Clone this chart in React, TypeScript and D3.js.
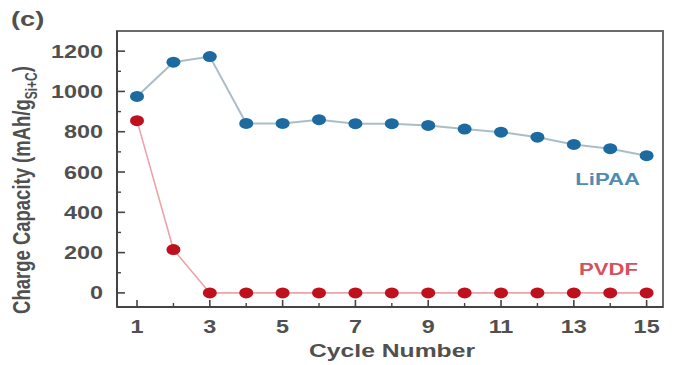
import { useEffect } from "react";
import * as d3 from "d3";

const cycles = [1, 2, 3, 4, 5, 6, 7, 8, 9, 10, 11, 12, 13, 14, 15];
const lipaa = [975, 1145, 1173, 841, 841, 860, 840, 840, 831, 813, 798, 773, 737, 716, 681];
const pvdf = [855, 215, 0, 0, 0, 0, 0, 0, 0, 0, 0, 0, 0, 0, 0];
const yTicks = [0, 200, 400, 600, 800, 1000, 1200];
const yMinor = [100, 300, 500, 700, 900, 1100];
const xTicks = [1, 3, 5, 7, 9, 11, 13, 15];
const xMinor = [2, 4, 6, 8, 10, 12, 14];

const W = 674, H = 365;
const box = { left: 117, right: 663, top: 31, bottom: 307 };
const SX = 1.3; // the picture is stretched sideways
const font = "'Liberation Sans', Arial, sans-serif";
const ink = "#505050";

const x = d3.scaleLinear().domain([0.45, 15.45]).range([box.left, box.right]);
const y = d3.scaleLinear().domain([-70, 1300]).range([box.bottom, box.top]);

const line = d3.line<number>().x((_, i) => x(cycles[i])).y(d => y(d));

const Txt = ({ tx, ty, size, anchor = "middle", fill = ink, children }: any) => (
  <text transform={`translate(${tx},${ty}) scale(${SX},1)`} fontSize={size} textAnchor={anchor}
    fill={fill} fontFamily={font} fontWeight="bold">{children}</text>
);

export default function App() {
  useEffect(() => { document.body.style.margin = "0"; }, []);
  return (
    <svg width={W} height={H} style={{ display: "block", background: "#fff" }}>
      <Txt tx={11} ty={26} size={21} anchor="start">(c)</Txt>

      {/* series lines */}
      <path d={line(lipaa) as string} fill="none" stroke="#a9bfc7" strokeWidth={2} />
      <path d={line(pvdf) as string} fill="none" stroke="#eaa4aa" strokeWidth={1.6} />

      {/* frame */}
      <rect x={box.left} y={box.top} width={box.right - box.left} height={box.bottom - box.top}
        fill="none" stroke="#6a6a6a" strokeWidth={2} />
      <line x1={box.left} x2={box.left} y1={box.top} y2={box.bottom} stroke="#444" strokeWidth={2} />
      <line x1={box.left} x2={box.right} y1={box.bottom} y2={box.bottom} stroke="#444" strokeWidth={2} />

      {yTicks.map(t => (
        <g key={"y" + t}>
          <line x1={box.left} x2={box.left + 8} y1={y(t)} y2={y(t)} stroke="#444" strokeWidth={1.6} />
          <Txt tx={103} ty={y(t) + 6.5} size={18} anchor="end">{t}</Txt>
        </g>
      ))}
      {yMinor.map(t => (
        <line key={"ym" + t} x1={box.left} x2={box.left + 4} y1={y(t)} y2={y(t)} stroke="#444" strokeWidth={1.4} />
      ))}
      {xTicks.map(t => (
        <g key={"x" + t}>
          <line x1={x(t)} x2={x(t)} y1={box.bottom} y2={box.bottom - 7} stroke="#444" strokeWidth={1.6} />
          <Txt tx={x(t)} ty={333} size={18}>{t}</Txt>
        </g>
      ))}
      {xMinor.map(t => (
        <line key={"xm" + t} x1={x(t)} x2={x(t)} y1={box.bottom} y2={box.bottom - 4} stroke="#444" strokeWidth={1.4} />
      ))}

      {/* markers */}
      {lipaa.map((v, i) => (
        <ellipse key={"b" + i} cx={x(cycles[i])} cy={y(v)} rx={7} ry={5.5} fill="#1c6aa0" />
      ))}
      {pvdf.map((v, i) => (
        <ellipse key={"r" + i} cx={x(cycles[i])} cy={y(v)} rx={7} ry={5.5} fill="#bf111d" />
      ))}

      <Txt tx={640} ty={185} size={17} anchor="end" fill="#4f8cb3">LiPAA</Txt>
      <Txt tx={638} ty={275} size={17} anchor="end" fill="#d4525c">PVDF</Txt>

      <Txt tx={392} ty={357} size={19}>Cycle Number</Txt>

      <text transform={`translate(30,190) scale(${SX},1) rotate(-90)`} fontSize={18.5} textAnchor="middle"
        fill={ink} fontFamily={font} fontWeight="bold">
        Charge Capacity (mAh/g<tspan fontSize={12} dy={5}>Si+C</tspan><tspan dy={-5}>)</tspan>
      </text>
    </svg>
  );
}
